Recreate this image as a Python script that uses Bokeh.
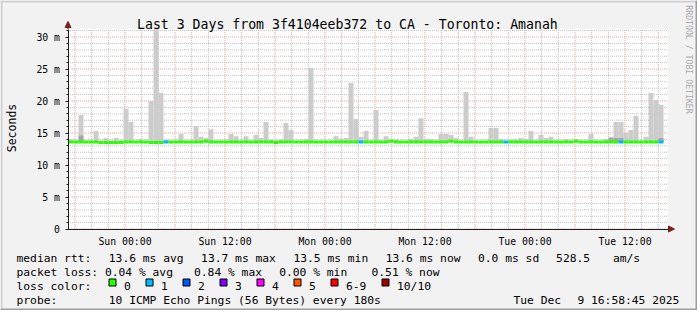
import math
import re
from bokeh.plotting import figure
from bokeh.models import FixedTicker, Arrow, NormalHead, Label
from bokeh.core.properties import value
from bokeh.embed import file_html
from bokeh.resources import INLINE

# ---------------- data ----------------
title_text = "Last 3 Days from 3f4104eeb372 to CA - Toronto: Amanah"
y_axis_label = "Seconds"
watermark_text = "RRDTOOL / TOBI OETIKER"

# time axis in hours since Sat 00:00
range_start_h = 17.16
range_hours = 72.0
bin_start_h = 17.22
bin_step_h = 0.6          # 36-minute consolidation steps

smoke_top_ms = [
    14.06, 13.7, 17.8, 13.7, 13.7, 15.3, 13.7, 14.2, 13.7, 14.2,
    13.95, 18.75, 16.7, 13.7, 14.06, 13.7, 20.0, 31.2, 21.25, 14.0,
    13.7, 13.7, 14.84, 13.7, 13.7, 16.1, 14.4, 14.2, 15.6, 13.8,
    13.7, 13.7, 14.84, 14.5, 13.7, 14.5, 13.7, 14.7, 14.2, 16.7,
    14.0, 13.7, 14.0, 16.56, 15.47, 13.7, 13.7, 14.06, 25.16, 13.7,
    13.7, 13.7, 13.7, 14.5, 14.1, 14.2, 22.8, 17.2, 14.4, 15.3,
    13.7, 18.6, 13.7, 14.5, 14.0, 14.06, 13.7, 13.7, 14.06, 14.4,
    17.3, 14.06, 14.06, 13.7, 14.84, 14.84, 14.7, 14.2, 13.7, 21.4,
    14.4, 13.7, 13.7, 13.7, 15.8, 15.8, 14.06, 13.7, 14.0, 14.0,
    14.2, 14.06, 15.3, 13.7, 14.7, 14.2, 14.4, 13.7, 13.7, 14.06,
    13.7, 14.0, 13.7, 13.7, 14.84, 13.7, 13.7, 14.06, 14.4, 16.7,
    16.7, 15.0, 15.47, 17.66, 13.7, 14.4, 21.25, 20.16, 19.4,
]

median_ms = [
    13.6, 13.6, 13.6, 13.6, 13.6, 13.6, 13.5, 13.5, 13.5, 13.5,
    13.5, 13.6, 13.6, 13.6, 13.6, 13.6, 13.5, 13.5, 13.5, 13.6,
    13.6, 13.6, 13.6, 13.6, 13.6, 13.6, 13.6, 13.7, 13.6, 13.6,
    13.6, 13.6, 13.6, 13.6, 13.6, 13.6, 13.6, 13.6, 13.6, 13.6,
    13.6, 13.5, 13.6, 13.6, 13.6, 13.6, 13.6, 13.6, 13.6, 13.6,
    13.6, 13.6, 13.6, 13.6, 13.6, 13.6, 13.6, 13.6, 13.6, 13.6,
    13.6, 13.6, 13.6, 13.6, 13.7, 13.6, 13.6, 13.6, 13.6, 13.6,
    13.6, 13.6, 13.6, 13.6, 13.6, 13.6, 13.7, 13.6, 13.6, 13.6,
    13.6, 13.6, 13.6, 13.6, 13.6, 13.6, 13.6, 13.6, 13.6, 13.6,
    13.6, 13.6, 13.6, 13.6, 13.6, 13.6, 13.6, 13.6, 13.6, 13.6,
    13.6, 13.7, 13.6, 13.6, 13.6, 13.6, 13.6, 13.6, 13.6, 13.6,
    13.6, 13.6, 13.6, 13.6, 13.6, 13.6, 13.6, 13.6, 13.6,
]

loss_class = [
    0, 0, 0, 0, 0, 0, 0, 0, 0, 0,
    0, 0, 0, 0, 0, 0, 0, 0, 0, 1,
    0, 0, 0, 0, 0, 0, 0, 0, 0, 0,
    0, 0, 0, 0, 0, 0, 0, 0, 0, 0,
    0, 0, 0, 0, 0, 0, 0, 0, 0, 0,
    0, 0, 0, 0, 0, 0, 0, 0, 1, 0,
    0, 0, 0, 0, 0, 0, 0, 0, 0, 0,
    0, 0, 0, 0, 0, 0, 0, 0, 0, 0,
    0, 0, 0, 0, 0, 0, 0, 1, 0, 0,
    0, 0, 0, 0, 0, 0, 0, 0, 0, 0,
    0, 0, 0, 0, 0, 0, 0, 0, 0, 0,
    1, 0, 0, 0, 0, 0, 0, 0, 1,
]

dark_bins = [2, 108, 109, 110, 118]
dark_top_ms = [14.6, 14.2, 14.2, 14.2, 14.2]

x_tick_hours = [18, 24, 30, 36, 42, 48, 54, 60, 66, 72, 78, 84]
x_tick_labels = ["", "Sun 00:00", "", "Sun 12:00", "", "Mon 00:00",
                 "", "Mon 12:00", "", "Tue 00:00", "", "Tue 12:00"]
x_minor_hours = [20, 22, 26, 28, 32, 34, 38, 40, 44, 46, 50, 52, 56, 58,
                 62, 64, 68, 70, 74, 76, 80, 82, 86, 88]
y_ticks_ms = [0, 5, 10, 15, 20, 25, 30]
y_tick_labels = ["0", "5 m", "10 m", "15 m", "20 m", "25 m", "30 m"]
y_minor_ms = [1, 2, 3, 4, 6, 7, 8, 9, 11, 12, 13, 14, 16, 17, 18, 19,
              21, 22, 23, 24, 26, 27, 28, 29, 31]
y_top_ms = 31.25

loss_colors = ["#26ff00", "#00b8ff", "#0059ff", "#7e00ff",
               "#ff00ff", "#ff5500", "#ff0000", "#a10000"]
loss_labels = ["0", "1", "2", "3", "4", "5", "6-9", "10/10"]

legend_lines = [
    "median rtt:  13.6 ms avg  13.7 ms max  13.5 ms min  13.6 ms now  0.0 ms sd  528.5   am/s",
    "packet loss: 0.04 % avg  0.84 % max  0.00 % min   0.51 % now",
    "loss color:",
    "probe:       10 ICMP Echo Pings (56 Bytes) every 180s",
]
stamp_text = "Tue Dec  9 16:58:45 2025"

# ---------------- layout (image pixels) ----------------
MONO = "DejaVu Sans Mono"
W, H = 697, 310
FL, FB = 67.5, 228.5          # pixel position of (range_start_h, 0)
PX_PER_H = 600 / range_hours
PX_PER_MS = 200 / y_top_ms
range_end_h = range_start_h + range_hours
BG = "#F2F2F2"


def sx(px):
    return range_start_h + (px - FL) / PX_PER_H


def sy(py):
    return (FB - py) / PX_PER_MS


p = figure(width=W, height=H, output_backend="svg", toolbar_location=None, title=None,
           x_range=(sx(0), sx(W)), y_range=(sy(H), sy(0)),
           min_border_left=0, min_border_right=0, min_border_top=0, min_border_bottom=0)
p.background_fill_color = BG
p.border_fill_color = BG
p.outline_line_color = None
p.xgrid.visible = False
p.ygrid.visible = False

# plot canvas
p.quad(left=[range_start_h], right=[range_end_h], bottom=[0], top=[y_top_ms],
       fill_color="white", line_color=None)

# grid (dotted, like rrdtool)
MINOR_C, MAJOR_C = "#C2C2C2", "#F0A0A0"
p.segment(x0=x_minor_hours, x1=x_minor_hours, y0=[0] * len(x_minor_hours),
          y1=[y_top_ms] * len(x_minor_hours), line_color=MINOR_C, line_dash="1 1", line_width=1)
p.segment(x0=[range_start_h] * len(y_minor_ms), x1=[range_end_h] * len(y_minor_ms),
          y0=y_minor_ms, y1=y_minor_ms, line_color=MINOR_C, line_dash="1 1", line_width=1)
p.segment(x0=x_tick_hours, x1=x_tick_hours, y0=[0] * len(x_tick_hours),
          y1=[y_top_ms] * len(x_tick_hours), line_color=MAJOR_C, line_dash="1 1", line_width=1)
p.segment(x0=[range_start_h] * len(y_ticks_ms), x1=[range_end_h] * len(y_ticks_ms),
          y0=y_ticks_ms, y1=y_ticks_ms, line_color=MAJOR_C, line_dash="1 1", line_width=1)

# ---------------- data marks ----------------
n = len(smoke_top_ms)
lefts = [bin_start_h + bin_step_h * k for k in range(n)]
rights = [l + bin_step_h for l in lefts]

p.quad(left=lefts, right=rights, bottom=median_ms, top=smoke_top_ms,
       fill_color="#CCCCCC", line_color=None)
p.quad(left=[lefts[k] for k in dark_bins], right=[rights[k] for k in dark_bins],
       bottom=[median_ms[k] for k in dark_bins], top=dark_top_ms,
       fill_color="#A8A8A8", line_color=None)
p.segment(x0=lefts, x1=rights, y0=median_ms, y1=median_ms,
          line_color=[loss_colors[c] for c in loss_class], line_width=3,
          line_cap="butt")

# ---------------- axes (fixed at the plot-area edges) ----------------
p.xaxis.fixed_location = 0
p.yaxis.fixed_location = range_start_h
p.xaxis.bounds = (range_start_h, range_end_h)
p.yaxis.bounds = (0, y_top_ms)
p.xaxis.ticker = FixedTicker(ticks=x_tick_hours, minor_ticks=x_minor_hours)
p.xaxis.major_label_overrides = dict(zip(x_tick_hours, x_tick_labels))
p.yaxis.ticker = FixedTicker(ticks=y_ticks_ms, minor_ticks=y_minor_ms)
p.yaxis.major_label_overrides = dict(zip(y_ticks_ms, y_tick_labels))
for ax in (p.xaxis[0], p.yaxis[0]):
    ax.axis_line_color = "#1F1F1F"
    ax.major_tick_line_color = "#1F1F1F"
    ax.minor_tick_line_color = "#1F1F1F"
    ax.major_label_text_font = MONO
    ax.major_label_text_font_size = "9.8px"
    ax.major_label_text_color = "black"
p.yaxis.major_tick_out = 3
p.yaxis.major_tick_in = 0
p.yaxis.minor_tick_out = 2
p.yaxis.minor_tick_in = 0
p.yaxis.major_label_standoff = 5
p.xaxis.major_tick_out = 2
p.xaxis.major_tick_in = 0
p.xaxis.major_tick_line_color = None
p.xaxis.minor_tick_line_color = None
p.xaxis.major_label_standoff = 3

arrow_col = "#801F1F"
p.add_layout(Arrow(end=NormalHead(size=6, fill_color=arrow_col, line_color=arrow_col),
                   x_start=range_start_h, y_start=y_top_ms, x_end=range_start_h, y_end=sy(21),
                   line_color="#1F1F1F", line_width=1))
p.add_layout(Arrow(end=NormalHead(size=6, fill_color=arrow_col, line_color=arrow_col),
                   x_start=range_end_h, y_start=0, x_end=sx(674), y_end=0,
                   line_color="#1F1F1F", line_width=1))

# ---------------- texts ----------------
p.add_layout(Label(x=sx(136.5), y=sy(24), text=title_text, text_font=MONO,
                   text_font_size="13.2px", text_color="black",
                   text_align="left", text_baseline="alphabetic"))
p.add_layout(Label(x=sx(11), y=sy(127.5), text=y_axis_label, text_font=MONO,
                   text_font_size="11.5px", text_color="black", angle=math.pi / 2,
                   text_align="center", text_baseline="middle"))
p.add_layout(Label(x=sx(688.5), y=sy(59), text=watermark_text, text_font=MONO,
                   text_font_size="8.2px", text_color="#ABABAB", angle=-math.pi / 2,
                   text_align="center", text_baseline="middle"))

CW = 7.1
LX = 16
baselines = [257.5, 271.5, 285.5, 299.5]
tx, ty, tt = [], [], []
for line, base in zip(legend_lines, baselines):
    for m in re.finditer(r"\S+(?: \S+)*", line):
        tx.append(sx(LX + m.start() * CW))
        ty.append(sy(base))
        tt.append(m.group(0))
for m in re.finditer(r"\S+(?: \S+)*", stamp_text):
    tx.append(sx(LX + (70 + m.start()) * CW))
    ty.append(sy(baselines[3]))
    tt.append(m.group(0))

box_px = [108.5, 145.5, 182.5, 219.5, 256.5, 293.5, 330.5, 381.5]
for bx, lab in zip(box_px, loss_labels):
    tx.append(sx(bx + 15))
    ty.append(sy(baselines[2]))
    tt.append(lab)

p.text(x=tx, y=ty, text=tt, text_font=value(MONO), text_font_size=value("11.3px"),
       text_color="black", text_align="left", text_baseline="alphabetic")
p.quad(left=[sx(b) for b in box_px], right=[sx(b + 7) for b in box_px],
       top=[sy(278.5)] * len(box_px), bottom=[sy(285.5)] * len(box_px),
       fill_color=loss_colors, line_color="black", line_width=1)

# ---------------- 3-D frame shading ----------------
p.quad(left=[sx(0), sx(0)], right=[sx(W), sx(2)], top=[sy(0), sy(0)], bottom=[sy(2), sy(H)],
       fill_color="#CFCFCF", line_color=None)
p.quad(left=[sx(0), sx(W - 2)], right=[sx(W), sx(W)], top=[sy(H - 2), sy(0)],
       bottom=[sy(H), sy(H)], fill_color="#9E9E9E", line_color=None)

open("out.html", "w").write(file_html(p, INLINE))
